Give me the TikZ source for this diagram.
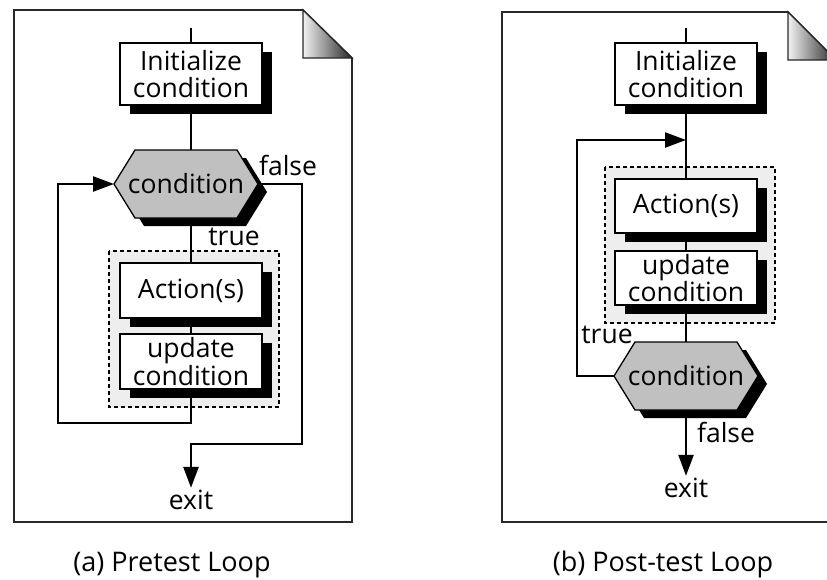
\documentclass[tikz,border=0pt]{standalone}
\usepackage{fontspec}
\setmainfont{Open Sans}
\usetikzlibrary{arrows.meta,shadows}
\definecolor{hexgray}{RGB}{192,192,192}
\definecolor{dashfill}{RGB}{238,238,238}
\definecolor{pagegray}{RGB}{40,40,40}
\begin{document}
\begin{tikzpicture}[x=1pt,y=-1pt,
  font=\fontsize{26.5}{27.5}\selectfont,
  conn/.style={line width=2.4pt},
  arr/.style={conn,-{Triangle[length=21pt,width=15pt]}},
  boxnode/.style={draw, line width=1.3pt, fill=white, minimum width=142pt,
    align=center, inner sep=0pt,
    drop shadow={shadow xshift=10pt, shadow yshift=-9pt, opacity=1, fill=black}},
  hexa/.style={draw, line width=1.3pt, fill=hexgray,
    drop shadow={shadow xshift=9pt, shadow yshift=-8pt, opacity=1, fill=black}},
  hexnode/.style={minimum width=144pt, minimum height=68pt, inner sep=0pt},
  dashbox/.style={draw, line width=1.1pt, fill=dashfill, dash pattern=on 4pt off 3pt},
  page/.style={draw=pagegray, line width=1.6pt, fill=white},
  fold/.style={draw=pagegray, line width=1.3pt, left color=black!5, right color=black!85},
  lbl/.style={inner sep=0pt, anchor=base},
  caplbl/.style={inner sep=0pt, anchor=base, font=\fontsize{27}{28}\selectfont},
  exitlbl/.style={anchor=base, inner sep=1.5pt}]
\useasboundingbox (0,0) rectangle (827,579);
\clip (0,0) rectangle (827,579);

% ---------------- (a) Pretest loop ----------------
\path[page] (14,10) -- (303,10) -- (352,58) -- (352,522) -- (14,522) -- cycle;
\path[fold] (303,10) -- (303,58) -- (352,58) -- cycle;

\path[dashbox] (109,251) rectangle (279,407);

\coordinate (topA) at (191,28);
\coordinate (cA) at (186,184);
\coordinate (lA) at (58,423);
\coordinate (fA) at (302,444);

\node[boxnode, minimum height=62pt] (initA) at (191,74) {Initialize\\condition};
\node[boxnode, minimum height=55pt] (actA) at (191,290.5) {Action(s)};
\node[boxnode, minimum height=55pt] (upA) at (191,361.5) {update\\condition};
\node[exitlbl] (exitA) at (191,509) {exit};

\draw[conn] (topA) -- (initA.north);
\draw[conn] (initA.south) -- (initA.south |- 0,150);
\draw[conn] (actA.north |- 0,218) -- (actA.north);
\draw[conn] (actA.south) -- (upA.north);
\draw[arr] (upA.south) |- (lA) |- ([xshift=-72pt]cA);
\draw[arr] ([xshift=72pt]cA) -| (fA) -| (exitA.north);

\path[hexa] ([xshift=-72pt]cA) -- ++(21,-34) -- ++(102,0) -- ++(21,34)
  -- ++(-21,34) -- ++(-102,0) -- cycle;
\node[hexnode] (condA) at (cA) {condition};

\node[lbl] (falseA) at (288,175) {false};
\node[lbl] (trueA) at (234,245) {true};
\node[caplbl] (capA) at (172,571) {(a) Pretest Loop};

% ---------------- (b) Post-test loop ----------------
\path[page] (502,12) -- (788,12) -- (836,60) -- (836,522) -- (502,522) -- cycle;
\path[fold] (788,12) -- (788,60) -- (836,60) -- cycle;

\path[dashbox] (605,167) rectangle (775,323);

\coordinate (topB) at (686,28);
\coordinate (cB) at (686,376);
\coordinate (jB) at (686,140);
\coordinate (lB) at (577,140);

\node[boxnode, minimum height=62pt] (initB) at (686,74) {Initialize\\condition};
\node[boxnode, minimum height=54pt] (actB) at (686,206) {Action(s)};
\node[boxnode, minimum height=54pt] (upB) at (686,278) {update\\condition};
\node[exitlbl] (exitB) at (686,497) {exit};

\draw[conn] (topB) -- (initB.north);
\draw[conn] (initB.south) -- (actB.north);
\draw[conn] (actB.south) -- (upB.north);
\draw[conn] (upB.south) -- (upB.south |- 0,342);
\draw[arr] ([xshift=-72pt]cB) -| (lB) -- (jB);
\draw[arr] (cB |- 0,410) -- (exitB.north);

\path[hexa] ([xshift=-72pt]cB) -- ++(21,-34) -- ++(102,0) -- ++(21,34)
  -- ++(-21,34) -- ++(-102,0) -- cycle;
\node[hexnode] (condB) at (cB) {condition};

\node[lbl] (trueB) at (607,343) {true};
\node[lbl] (falseB) at (726,442) {false};
\node[caplbl] (capB) at (663,571) {(b) Post-test Loop};
\end{tikzpicture}
\end{document}
